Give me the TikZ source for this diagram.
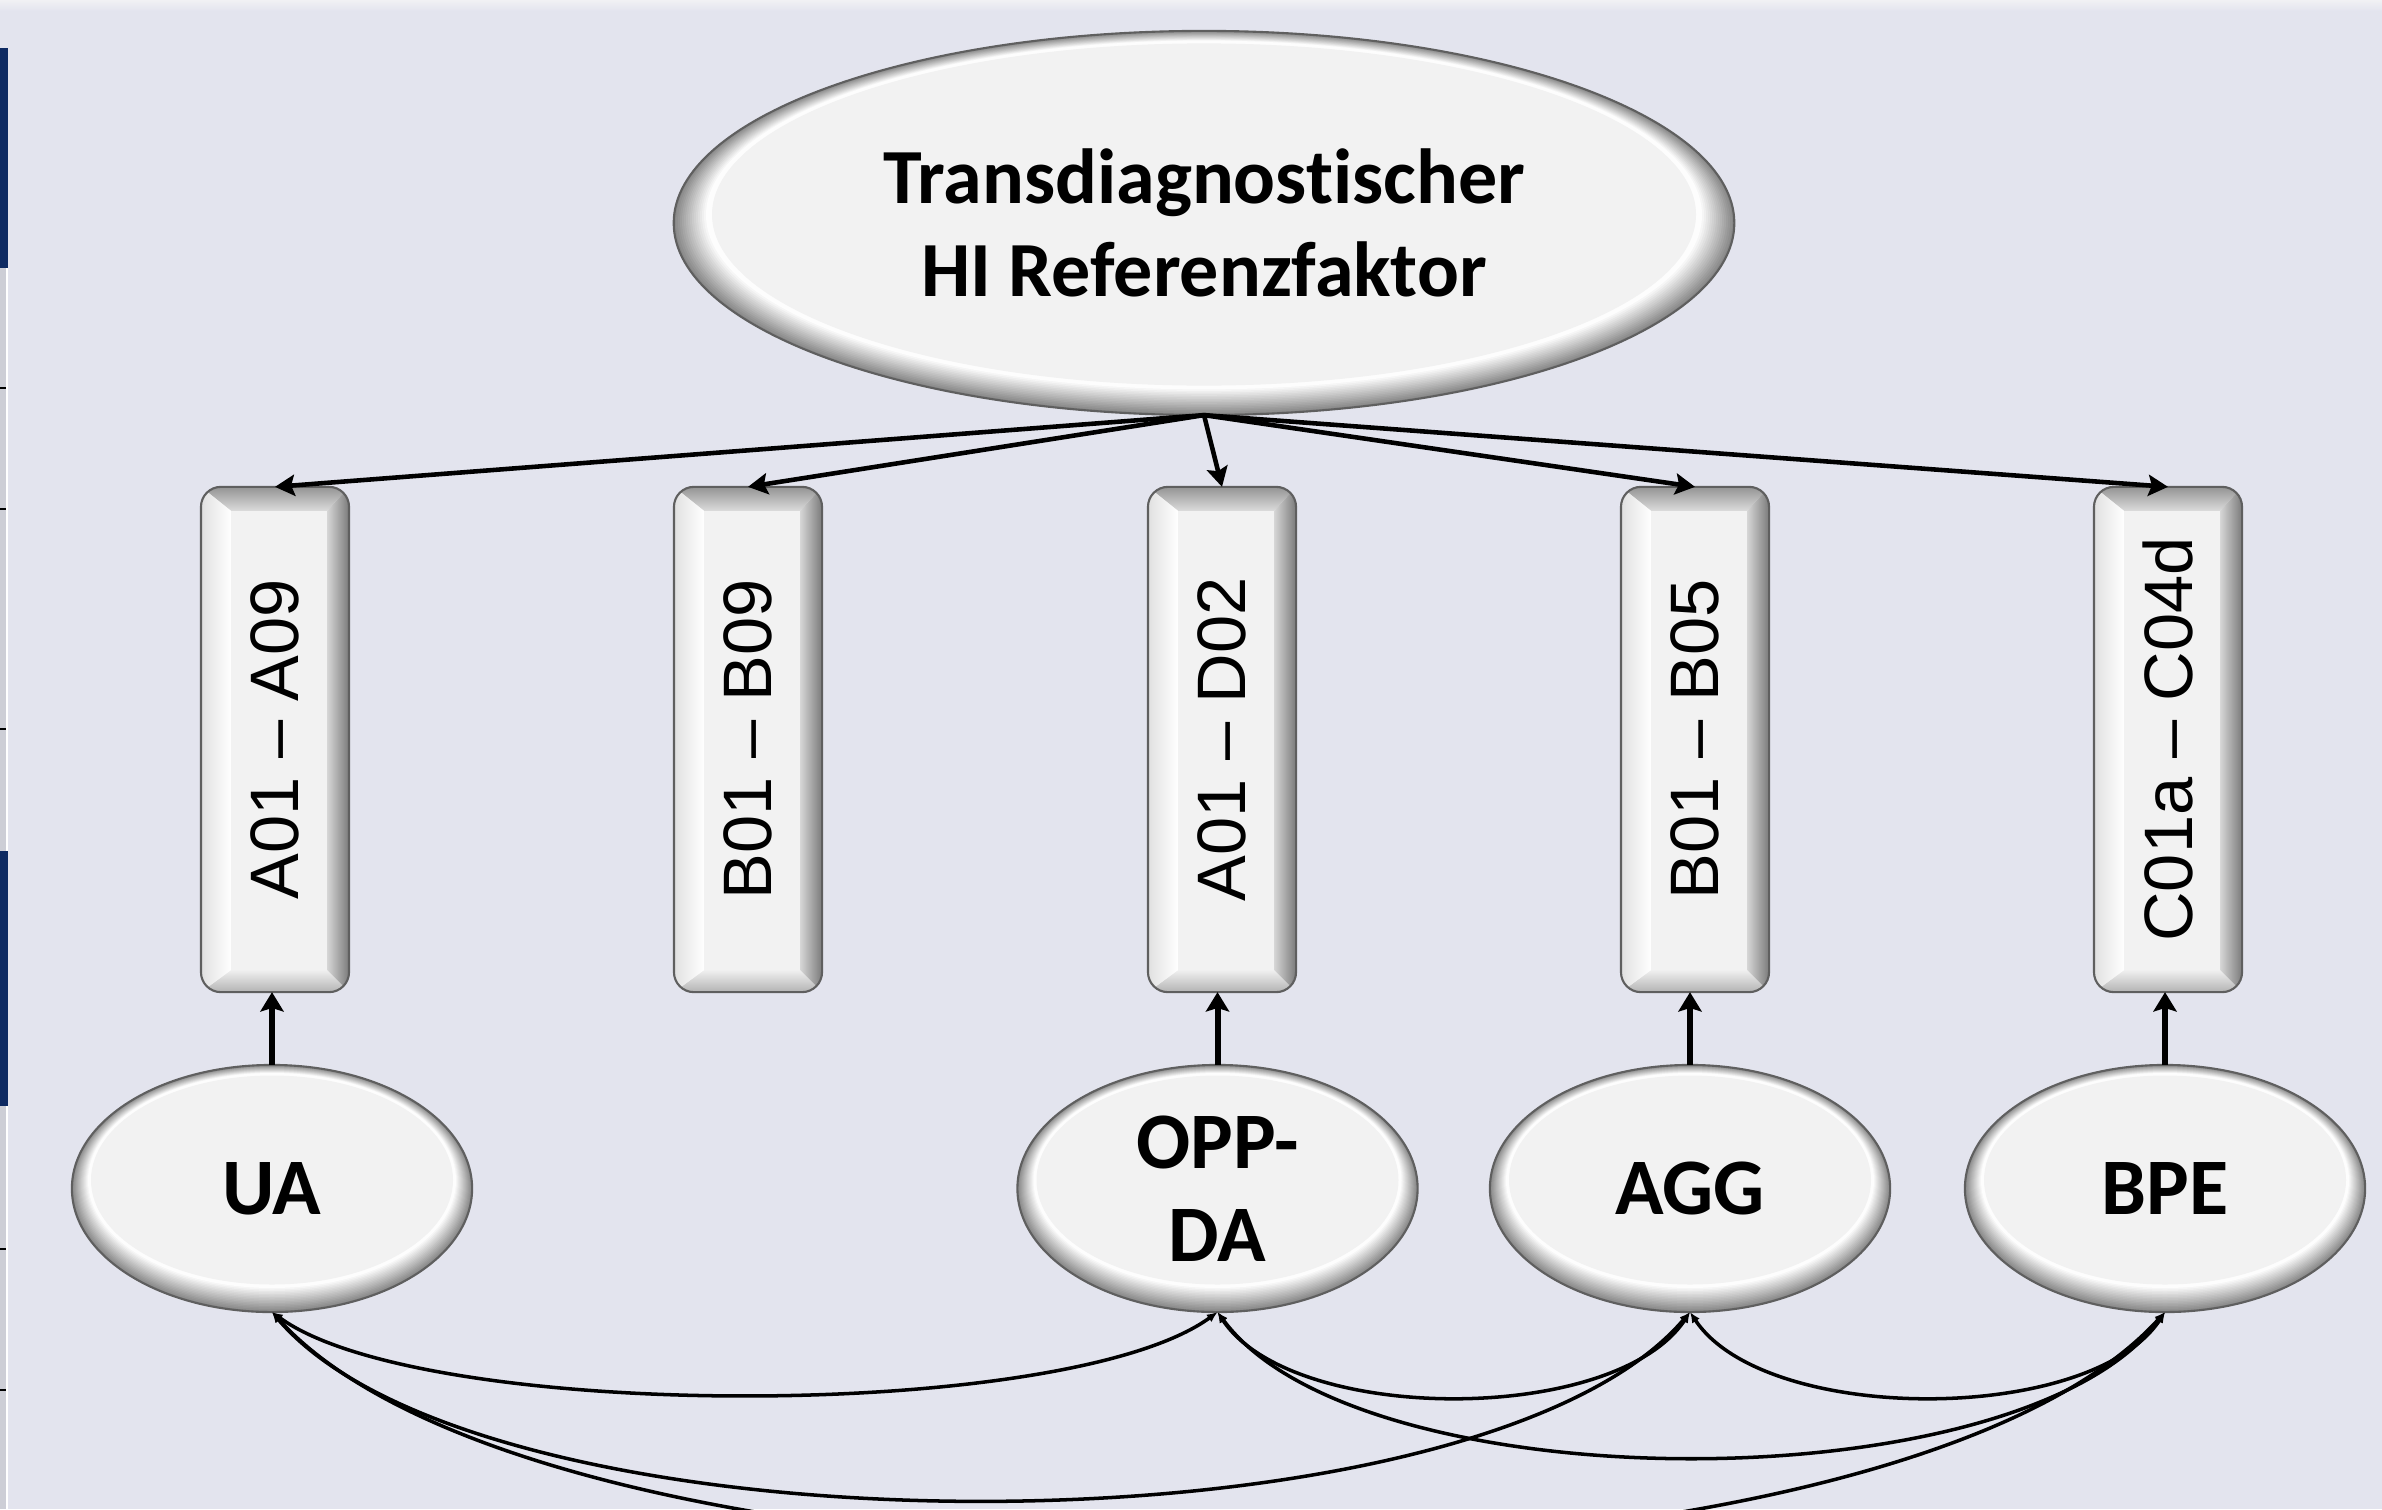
\documentclass[tikz,border=0pt]{standalone}
\usepackage{fontspec}
\usepackage{graphicx}
\setmainfont{Liberation Sans}
\newfontfamily\calibri[Ligatures=NoCommon]{Carlito}
\usetikzlibrary{shapes.geometric,arrows.meta,calc}

\definecolor{bg}{RGB}{227,228,238}
\definecolor{topstrip}{RGB}{241,241,244}
\definecolor{navy}{RGB}{14,42,98}
\definecolor{face}{RGB}{242,242,242}
\definecolor{edge}{RGB}{95,95,95}
\definecolor{sidestrip}{RGB}{205,206,214}

\pgfdeclarelayer{back}
\pgfdeclarelayer{bev}
\pgfsetlayers{back,bev,main}

% bevel under an ellipse node: node, rx, ry (px), inset factors kx, ky
\newcommand\ellbevel[5]{%
  \fill[black!47] (#1.center) ellipse [x radius=#2, y radius=#3];
  \foreach \d in {1,...,16}
    {\pgfmathsetmacro\c{max(0,47-2.9*\d)}%
     \fill[black!\c] ($(#1.center)+(0,-0.5*\d)$) ellipse [x radius={#2-\d*#4}, y radius={#3-\d*#5}];}
  \fill[face] ($(#1.center)+(0,-8.5)$) ellipse [x radius={#2-19*#4}, y radius={#3-19*#5}];}

% bevel under an item box
\newcommand\boxbevel[1]{%
  \begin{scope}
    \clip[rounded corners=0.2cm] (#1.north west) rectangle (#1.south east);
    \fill[face] (#1.north west) rectangle (#1.south east);
    \shade[top color=black!42, bottom color=black!14] (#1.north west) -- (#1.north east)
       -- ($(#1.north east)+(-22,24)$) -- ($(#1.north west)+(30,24)$) -- cycle;
    \shade[left color=black!16, right color=black!52] (#1.north east) -- (#1.south east)
       -- ($(#1.south east)+(-22,-22)$) -- ($(#1.north east)+(-22,24)$) -- cycle;
    \shade[top color=black!6, bottom color=black!30] (#1.south west) -- (#1.south east)
       -- ($(#1.south east)+(-22,-22)$) -- ($(#1.south west)+(30,-22)$) -- cycle;
    \shade[left color=black!12, right color=white] (#1.north west) -- ($(#1.north west)+(30,24)$)
       -- ($(#1.south west)+(30,-22)$) -- (#1.south west) -- cycle;
  \end{scope}}

\tikzset{
  bigell/.style={ellipse, draw=edge, line width=0.6pt, outer sep=0pt,
    minimum width=10.6cm, minimum height=3.84cm, inner sep=0pt, align=center,
    font=\calibri\bfseries\fontsize{22.2pt}{26.3pt}\selectfont},
  factor/.style={ellipse, draw=edge, line width=0.6pt, outer sep=0pt,
    minimum width=4cm, minimum height=2.47cm, inner sep=0pt, align=center,
    font=\calibri\bfseries\fontsize{22.8pt}{26.5pt}\selectfont},
  itembox/.style={rectangle, rounded corners=0.2cm, draw=edge, line width=0.6pt, outer sep=0pt,
    minimum width=1.48cm, minimum height=5.05cm, inner sep=0pt,
    font=\fontsize{19.5pt}{23pt}\selectfont},
  load/.style={line width=1.3pt, -{Stealth[length=5.6pt, width=6pt, inset=1pt]}},
  ind/.style={line width=1.7pt, -{Stealth[length=5.5pt, width=6.6pt, inset=1pt]}},
  cov/.style={line width=1pt, {Latex[length=3pt, width=2.6pt]}-{Latex[length=3pt, width=2.6pt]}},
}

\begin{document}
\begin{tikzpicture}[x=0.01cm, y=-0.01cm]
\useasboundingbox (0,0) rectangle (2382,1509);
\begin{pgfonlayer}{back}
% background
\fill[bg] (0,0) rectangle (2382,1509);
\shade[top color=topstrip, bottom color=bg] (0,0) rectangle (2382,11);
% left edge of neighbouring slide
\fill[sidestrip] (0,268) rectangle (6,1509);
\fill[white] (6,268) rectangle (8,1509);
\fill[navy] (0,48) rectangle (8,268);
\fill[navy] (0,851) rectangle (8,1106);
\foreach \yy in {388,509,729,1249,1390}
  \draw[black, line width=0.6pt] (0,\yy) -- (6,\yy);
\end{pgfonlayer}

% nodes
\node[bigell] (top) at (1204,223) {Transdiagnostischer\\HI Referenzfaktor};

\node[itembox] (r1) at (275,739.5) {\rotatebox{90}{A01 – A09}};
\node[itembox] (r2) at (748,739.5) {\rotatebox{90}{B01 – B09}};
\node[itembox] (r3) at (1222,739.5) {\rotatebox{90}{A01 – D02}};
\node[itembox] (r4) at (1695,739.5) {\rotatebox{90}{B01 – B05}};
\node[itembox] (r5) at (2168,739.5) {\rotatebox{90}{C01a – C04d}};

\node[factor] (ua)  at (272,1188.5)  {UA};
\node[factor] (opp) at (1217.5,1188.5) {OPP-\\DA};
\node[factor] (agg) at (1690,1188.5) {AGG};
\node[factor] (bpe) at (2165,1188.5) {BPE};

% bevelled fills below the nodes
\begin{pgfonlayer}{bev}
\ellbevel{top}{530}{192}{2}{1.1}
\foreach \n in {ua,opp,agg,bpe} {\ellbevel{\n}{200}{123.5}{1}{1}}
\foreach \n in {r1,r2,r3,r4,r5} {\boxbevel{\n}}
\end{pgfonlayer}

% loadings of the general factor
\foreach \r in {r1,r2,r3,r4,r5}
  \draw[load] (top.south) -- (\r.north);

% loadings of the specific factors
\draw[ind] (ua.north)  -- (ua.north |- r1.south);
\draw[ind] (opp.north) -- (opp.north |- r3.south);
\draw[ind] (agg.north) -- (agg.north |- r4.south);
\draw[ind] (bpe.north) -- (bpe.north |- r5.south);

% covariances
\draw[cov] (ua.south)  .. controls +(151,110) and +(-151,110) .. (opp.south);
\draw[cov] (opp.south) .. controls +(75,113) and +(-75,113) .. (agg.south);
\draw[cov] (agg.south) .. controls +(75,113) and +(-75,113) .. (bpe.south);
\draw[cov] (opp.south) .. controls +(142,193) and +(-142,193) .. (bpe.south);
\draw[cov] (ua.south)  .. controls +(213,250) and +(-213,250) .. (agg.south);
\draw[cov] (ua.south)  .. controls +(284,313) and +(-284,313) .. (bpe.south);
\end{tikzpicture}
\end{document}
